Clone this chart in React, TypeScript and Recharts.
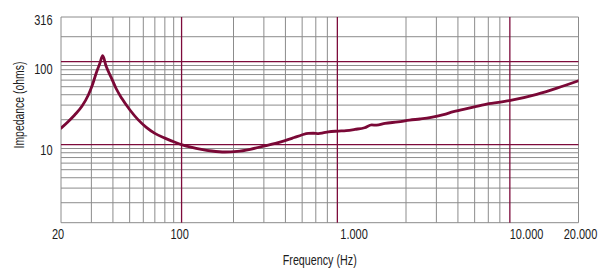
import React from "react";
import { LineChart, Line, XAxis, YAxis, ReferenceLine, Label } from "recharts";

// ---- data ----
const frequencies = [
  20, 21.9, 24, 26.5, 28.8, 30.4, 32.2, 33.5, 34.9, 36.5, 39.3, 41.6, 45, 50.2, 56.1, 62.2, 70,
  80, 91.6, 102, 115, 128, 150, 178, 210, 250, 298, 350, 398, 450, 497, 543, 580, 621, 660, 709,
  811, 900, 1012, 1150, 1265, 1350, 1510, 1800, 2100, 2411, 2800, 3300, 3767, 4700, 5874, 7940,
  11450, 15000, 20000,
];
const impedance = [
  15.8, 18.8, 22.8, 29.2, 39.7, 52.4, 75.8, 93.9, 118, 88.6, 63, 48.2, 36.2, 26.2, 19.9, 16.3,
  13.7, 12.0, 10.7, 9.9, 9.3, 8.87, 8.4, 8.17, 8.3, 8.8, 9.6, 10.4, 11.2, 12.2, 13.1, 13.7, 13.75,
  13.6, 13.85, 14.3, 14.6, 14.8, 15.3, 16.0, 17.3, 17.2, 18.1, 18.8, 19.8, 20.4, 21.3, 23, 25,
  27.8, 30.9, 33.9, 40.4, 48, 59,
];

const xTickValues = [20, 100, 1000, 10000, 20000];
const xTickLabels = ["20", "100", "1.000", "10.000", "20.000"];
const yTickValues = [10, 100, 316];
const yTickLabels = ["10", "100", "316"];

const xDomain = [20, 20000];
const yDomain = [1.149, 345.6];

const grayFreqLines = [30, 40, 50, 60, 70, 80, 90, 200, 300, 400, 500, 600, 700, 2000, 3000, 4000, 5000, 6000, 7000];
const redFreqLines = [100, 800, 8000];
const grayImpLines = [2, 3, 4, 5, 6, 7, 8, 9, 20, 30, 40, 50, 60, 70, 80, 90, 200];
const redImpLines = [10, 100];

const data = frequencies.map((f, i) => ({ f, z: impedance[i] }));

// ---- styles ----
const GRAY = "#8c8c8c";
const RED = "#7d0b3b";
const CURVE = "#7a0836";
const TEXT = "#1c1c1c";
const FONT = "'Liberation Sans', Arial, sans-serif";
const FS = 11;
const TALL = 1.36; // vertical stretch to mimic a condensed face

const xShift: Record<string, number> = { "20": -3, "100": -2, "1.000": 0, "10.000": 0, "20.000": 2 };
const yDrop: Record<string, number> = { "10": 10.3, "100": 12.3, "316": 4.8 };

const PLOT_LEFT = 61;
const PLOT_BOTTOM = 222.7;

const XTick = (props: any) => {
  const { x, payload } = props;
  const i = xTickValues.indexOf(payload.value);
  const label = xTickLabels[i];
  const tx = x + (xShift[label] || 0);
  const ty = PLOT_BOTTOM + 16;
  return (
    <text
      x={0}
      y={0}
      transform={`translate(${tx} ${ty}) scale(1 ${TALL})`}
      textAnchor="middle"
      fontFamily={FONT}
      fontSize={FS}
      fill={TEXT}
    >
      {label}
    </text>
  );
};

const YTick = (props: any) => {
  const { y, payload } = props;
  const i = yTickValues.indexOf(payload.value);
  const label = yTickLabels[i];
  const tx = PLOT_LEFT - 8.5;
  const ty = y + (yDrop[label] || 0);
  return (
    <text
      x={0}
      y={0}
      transform={`translate(${tx} ${ty}) scale(1 ${TALL})`}
      textAnchor="end"
      fontFamily={FONT}
      fontSize={FS}
      fill={TEXT}
    >
      {label}
    </text>
  );
};

const XTitle = () => (
  <text
    x={0}
    y={0}
    transform={`translate(${(PLOT_LEFT + 578.5) / 2} 265) scale(1 ${TALL})`}
    textAnchor="middle"
    fontFamily={FONT}
    fontSize={FS}
    fill={TEXT}
    textLength={74}
    lengthAdjust="spacingAndGlyphs"
  >
    Frequency (Hz)
  </text>
);

const YTitle = () => (
  <text
    x={0}
    y={0}
    transform={`translate(23.5 105) rotate(-90) scale(1 ${TALL})`}
    textAnchor="middle"
    fontFamily={FONT}
    fontSize={FS}
    fill={TEXT}
    textLength={87}
    lengthAdjust="spacingAndGlyphs"
  >
    Impedance (ohms)
  </text>
);

export default function App() {
  return (
    <div style={{ position: "absolute", left: 0, top: 0, width: 605, height: 278, background: "#fff" }}>
      <LineChart
        width={605}
        height={278}
        data={data}
        margin={{ top: 17, right: 26.5, bottom: 25.3, left: 16 }}
      >
        <XAxis
          dataKey="f"
          type="number"
          scale="log"
          domain={xDomain}
          allowDataOverflow
          ticks={xTickValues}
          interval={0}
          tick={XTick}
          tickLine={false}
          axisLine={false}
          height={30}
        >
          <Label content={XTitle} />
        </XAxis>
        <YAxis
          type="number"
          scale="log"
          domain={yDomain}
          allowDataOverflow
          ticks={yTickValues}
          interval={0}
          tick={YTick}
          tickLine={false}
          axisLine={false}
          width={45}
        >
          <Label content={YTitle} />
        </YAxis>

        {grayImpLines.map((v) => (
          <ReferenceLine key={`gy${v}`} y={v} stroke={GRAY} strokeWidth={1} />
        ))}
        {grayFreqLines.map((v) => (
          <ReferenceLine key={`gx${v}`} x={v} stroke={GRAY} strokeWidth={1} />
        ))}
        <ReferenceLine y={yDomain[0]} stroke={GRAY} strokeWidth={1} />
        <ReferenceLine y={yDomain[1]} stroke={GRAY} strokeWidth={1} />
        <ReferenceLine x={xDomain[0]} stroke={GRAY} strokeWidth={1} />
        <ReferenceLine x={xDomain[1]} stroke={GRAY} strokeWidth={1} />
        {redImpLines.map((v) => (
          <ReferenceLine key={`ry${v}`} y={v} stroke={RED} strokeWidth={1.3} />
        ))}
        {redFreqLines.map((v) => (
          <ReferenceLine key={`rx${v}`} x={v} stroke={RED} strokeWidth={1.3} />
        ))}

        <Line
          dataKey="z"
          type="monotoneX"
          stroke={CURVE}
          strokeWidth={2.8}
          dot={false}
          isAnimationActive={false}
          strokeLinejoin="round"
          strokeLinecap="round"
        />
      </LineChart>
    </div>
  );
}
